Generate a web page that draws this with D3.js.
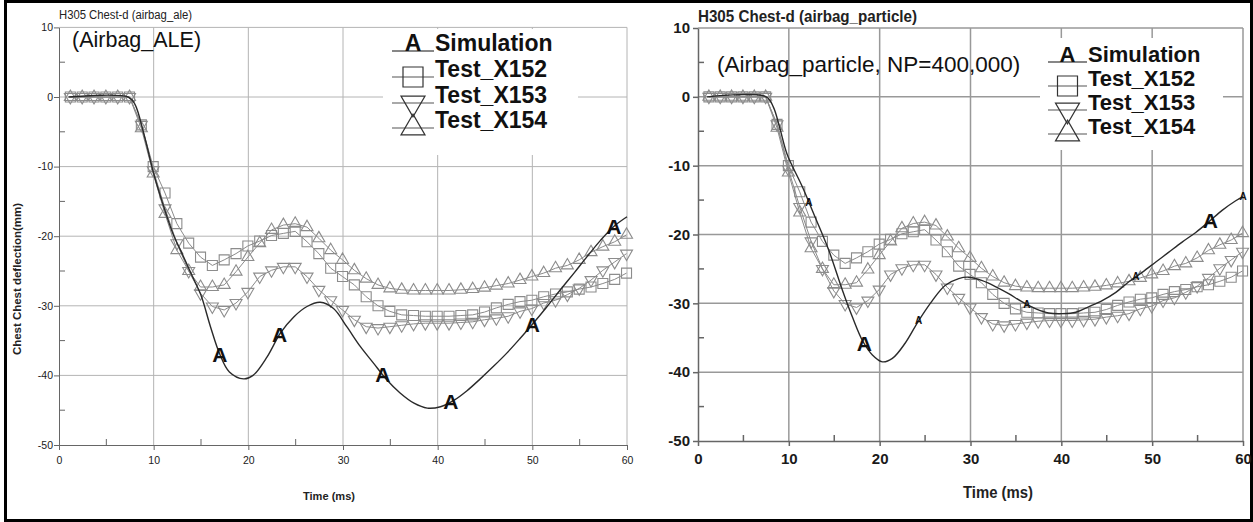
<!DOCTYPE html>
<html>
<head>
<meta charset="utf-8">
<script src="https://cdn.jsdelivr.net/npm/d3@7"></script>
<style>
  body { margin: 0; background: #fff; }
  svg { display: block; font-family: "Liberation Sans", Arial, sans-serif; }
</style>
</head>
<body>
<svg id="chart" width="1253" height="522"></svg>
<script>
// ---- data ----
const testTime = [1.2, 2.45, 3.7, 4.95, 6.2, 7.45, 8.7, 9.95, 11.2, 12.45, 13.7, 14.95, 16.2, 17.45,
  18.7, 19.95, 21.2, 22.45, 23.7, 24.95, 26.2, 27.45, 28.7, 29.95, 31.2, 32.45, 33.7, 34.95, 36.2,
  37.45, 38.7, 39.95, 41.2, 42.45, 43.7, 44.95, 46.2, 47.45, 48.7, 49.95, 51.2, 52.45, 53.7, 54.95,
  56.2, 57.45, 58.7, 59.95];

const testX152 = [0, 0, 0, 0, 0, 0, -4, -10, -13.8, -18.2, -21, -23, -24.2, -23.4, -22.5, -21.4,
  -20.7, -19.9, -19.6, -19.3, -20.8, -22.5, -24.6, -25.8, -27, -28.7, -30, -30.8, -31.3, -31.4,
  -31.5, -31.5, -31.5, -31.4, -31.3, -30.9, -30.3, -29.8, -29.4, -29.2, -28.7, -28.3, -28, -27.6,
  -27.3, -26.8, -26.2, -25.3];

const testX153 = [0, 0, 0, 0, 0, 0, -4, -10.5, -16, -21, -25, -28.2, -30.1, -30.6, -29.6, -28,
  -25.8, -24.9, -24.4, -24.4, -25.8, -27.7, -29.2, -30.6, -32, -33, -33.2, -33, -32.8, -32.6,
  -32.5, -32.5, -32.5, -32.4, -32.3, -32, -31.8, -31.5, -30.8, -30.4, -29.6, -29.2, -28.4, -27.5,
  -26.3, -24.9, -23.7, -22.5];

const testX154 = [0, 0, 0, 0, 0, 0, -4.5, -11, -16.8, -22, -25, -27.3, -27.3, -27, -25.1, -23,
  -21, -19.1, -18.4, -18.2, -18.7, -20.3, -22, -23.4, -24.9, -26.1, -27, -27.5, -27.7, -27.8,
  -27.8, -27.8, -27.8, -27.7, -27.6, -27.4, -27.1, -26.8, -26.3, -25.8, -25.3, -24.6, -24.2, -23.4,
  -22.3, -21.5, -20.8, -19.8];

const simAleTime = [1, 7.3, 8, 9, 10, 11, 12, 13, 14, 15, 16, 17, 18, 19.5, 20.5, 22, 23.4, 24.8,
  26.2, 27.6, 29, 30.4, 31.8, 33.2, 34.6, 36, 37.5, 38.9, 40.3, 41.7, 43.1, 44.5, 45.9, 47.3, 48.7,
  50.1, 51.5, 52.9, 54.4, 55.8, 57.2, 58.6, 60];
const simAleDefl = [0, 0, -1, -5.5, -11, -15.5, -19.5, -22.5, -25.5, -28.5, -33, -37, -39.5, -40.5,
  -40, -37.3, -33.9, -31.6, -30.1, -29.5, -30.4, -33, -35.8, -38.2, -40.6, -42.5, -44, -44.7, -44.5,
  -43.6, -42.2, -40.5, -38.7, -36.8, -34.7, -32.5, -30.2, -27.8, -25.3, -22.9, -20.6, -18.6, -17.2];
const simAleMarkTime = [17, 23.3, 34.2, 41.4, 50, 58.6];

const simParticleTime = [1, 7.5, 8.3, 9, 9.8, 11.5, 12.9, 14.4, 15.9, 17, 18.1, 19.2, 20.3, 21.4,
  22.8, 24.3, 25.8, 27.2, 28.7, 29.8, 31.3, 32.8, 34.2, 35.7, 37.2, 38.6, 40.1, 41.6, 43, 44.5, 46,
  47.4, 48.9, 50.4, 51.8, 53.3, 54.8, 56.2, 57.7, 59.2, 60];
const simParticleDefl = [0, 0, -1.5, -4.5, -8.3, -13.1, -17.5, -22.3, -28.1, -32, -35.4, -37.5,
  -38.5, -38, -35.8, -32.5, -29.6, -27.4, -26.4, -26.2, -26.7, -27.6, -28.6, -29.8, -30.8, -31.4,
  -31.5, -31.3, -30.5, -29.6, -28.4, -26.9, -25.5, -24, -22.6, -21.1, -19.7, -18.2, -16.5, -15.1,
  -14.5];
const simParticleMarkTime = [12.2, 18.3, 24.3, 36.2, 48.2, 56.4, 60];

const xTicks = [0, 10, 20, 30, 40, 50, 60];
const yTicks = [10, 0, -10, -20, -30, -40, -50];
const xMinor = [5, 15, 25, 35, 45, 55];
const yMinor = [5, -5, -15, -25, -35, -45];
const legendLabels = ["Simulation", "Test_X152", "Test_X153", "Test_X154"];

const svg = d3.select("#chart");

// outer frame
svg.append("rect")
  .attr("x", 5.5).attr("y", 1.5).attr("width", 1246).attr("height", 519)
  .attr("fill", "none").attr("stroke", "#000").attr("stroke-width", 3);

const tests = [
  { values: testX152, shape: "square" },
  { values: testX153, shape: "down" },
  { values: testX154, shape: "up" }
];

function symbolPath(shape, side) {
  if (shape === "square") return d3.symbol(d3.symbolSquare, side * side)();
  return d3.symbol(d3.symbolTriangle, Math.sqrt(3) / 4 * side * side)();
}

// where a label sits on the simulation curve
function interp(ts, vs, t) {
  const i = Math.max(1, d3.bisectLeft(ts, t));
  const k = (t - ts[i - 1]) / (ts[i] - ts[i - 1]);
  return vs[i - 1] + k * (vs[i] - vs[i - 1]);
}

function drawPanel(p) {
  const x = d3.scaleLinear().domain([0, 60]).range([p.left, p.right]);
  const y = d3.scaleLinear().domain([-50, 10]).range([p.bottom, p.top]);
  const g = svg.append("g");

  // grid
  g.append("g").selectAll("line")
    .data(xTicks.slice(1))
    .join("line")
    .attr("x1", d => x(d)).attr("x2", d => x(d))
    .attr("y1", p.top).attr("y2", p.bottom)
    .attr("stroke", p.gridColor).attr("stroke-width", p.gridWidth);
  g.append("g").selectAll("line")
    .data(yTicks.slice(0, -1))
    .join("line")
    .attr("x1", p.left).attr("x2", p.right)
    .attr("y1", d => y(d)).attr("y2", d => y(d))
    .attr("stroke", p.gridColor).attr("stroke-width", p.gridWidth);

  // axes
  const xAxis = g.append("g")
    .attr("transform", `translate(0,${p.bottom})`)
    .call(d3.axisBottom(x).tickValues(xTicks).tickSize(5).tickSizeOuter(0)
      .tickPadding(7).tickFormat(d => String(d)));
  const yAxis = g.append("g")
    .attr("transform", `translate(${p.left},0)`)
    .call(d3.axisLeft(y).tickValues(yTicks).tickSize(5).tickSizeOuter(0)
      .tickPadding(p.yPad).tickFormat(d => String(d)));
  [xAxis, yAxis].forEach(a => {
    a.select(".domain").attr("stroke", p.axisColor).attr("stroke-width", p.axisWidth);
    a.selectAll(".tick line").attr("stroke", p.axisColor).attr("stroke-width", p.axisWidth);
    a.selectAll("text")
      .attr("font-size", p.tickFont).attr("font-weight", p.tickWeight)
      .attr("fill", "#1a1a1a");
  });

  // minor ticks pointing inward
  g.append("g").selectAll("line")
    .data(xMinor).join("line")
    .attr("x1", d => x(d)).attr("x2", d => x(d))
    .attr("y1", p.bottom).attr("y2", p.bottom - 6)
    .attr("stroke", p.axisColor).attr("stroke-width", p.axisWidth);
  g.append("g").selectAll("line")
    .data(yMinor).join("line")
    .attr("x1", p.left).attr("x2", p.left + 6)
    .attr("y1", d => y(d)).attr("y2", d => y(d))
    .attr("stroke", p.axisColor).attr("stroke-width", p.axisWidth);

  // test curves
  const testLine = d3.line().x(d => x(d[0])).y(d => y(d[1]));
  tests.forEach(s => {
    const pts = testTime.map((t, i) => [t, s.values[i]]);
    g.append("path")
      .attr("d", testLine(pts))
      .attr("fill", "none").attr("stroke", "#8a8a8a").attr("stroke-width", 1);
    g.append("g").selectAll("path")
      .data(pts).join("path")
      .attr("d", symbolPath(s.shape, s.shape === "square" ? 10 : 12))
      .attr("transform", d => `translate(${x(d[0])},${y(d[1])})${s.shape === "down" ? " rotate(180)" : ""}`)
      .attr("fill", "none").attr("stroke", "#8c8c8c").attr("stroke-width", 1.1);
  });

  // simulation
  const simPts = p.simTime.map((t, i) => [t, p.simDefl[i]]);
  g.append("path")
    .attr("d", d3.line().x(d => x(d[0])).y(d => y(d[1])).curve(d3.curveCatmullRom)(simPts))
    .attr("fill", "none").attr("stroke", "#2a2a2a").attr("stroke-width", 1.4);
  g.append("g").selectAll("text")
    .data(p.markTime).join("text")
    .attr("x", d => x(d))
    .attr("y", d => y(interp(p.simTime, p.simDefl, d)))
    .attr("text-anchor", "middle").attr("dy", "0.36em")
    .attr("font-weight", "bold")
    .attr("font-size", (d, i) => p.bigMarks.includes(i) ? 21 : 10)
    .attr("fill", "#111")
    .text("A");

  // titles and notes
  g.append("text")
    .attr("x", p.left).attr("y", p.titleY)
    .attr("font-size", p.titleFont).attr("font-weight", p.titleWeight)
    .attr("textLength", p.titleLen).attr("lengthAdjust", "spacingAndGlyphs")
    .attr("fill", "#222").text(p.title);
  g.append("text")
    .attr("x", p.noteX).attr("y", p.noteY)
    .attr("font-size", p.noteFont).attr("fill", "#111").text(p.note);
  g.append("text")
    .attr("x", p.xLabelX).attr("y", p.xLabelY)
    .attr("text-anchor", "middle").attr("font-weight", "bold")
    .attr("font-size", p.xLabelFont)
    .attr("textLength", p.xLabelLen).attr("lengthAdjust", "spacingAndGlyphs")
    .attr("fill", "#222").text("Time (ms)");
  if (p.yLabel) {
    g.append("text")
      .attr("transform", `translate(${p.yLabelX},${p.yLabelY}) rotate(-90)`)
      .attr("text-anchor", "middle").attr("font-weight", "bold")
      .attr("font-size", 10)
      .attr("textLength", 152).attr("lengthAdjust", "spacingAndGlyphs")
      .attr("fill", "#222").text(p.yLabel);
  }

  // legend
  const lg = p.legend;
  g.append("rect")
    .attr("x", lg.x0).attr("y", lg.y0).attr("width", lg.x1 - lg.x0).attr("height", lg.y1 - lg.y0)
    .attr("fill", "#fff");
  const rows = g.append("g").selectAll("g")
    .data(legendLabels).join("g")
    .attr("transform", (d, i) => `translate(0,${lg.rows[i]})`);
  rows.append("line")
    .attr("x1", lg.lineX0).attr("x2", lg.lineX1)
    .attr("stroke", (d, i) => i === 0 ? "#111" : "#555").attr("stroke-width", 1.2);
  rows.filter((d, i) => i === 0).append("text")
    .attr("x", (lg.lineX0 + lg.lineX1) / 2).attr("text-anchor", "middle")
    .attr("font-weight", "bold").attr("font-size", lg.font).attr("fill", "#111")
    .text("A");
  rows.filter((d, i) => i > 0).append("path")
    .attr("d", (d, i) => symbolPath(tests[i].shape, tests[i].shape === "square" ? 20 : 24))
    .attr("transform", (d, i) => `translate(${(lg.lineX0 + lg.lineX1) / 2},0)${tests[i].shape === "down" ? " rotate(180)" : ""}`)
    .attr("fill", "none").attr("stroke", "#333").attr("stroke-width", 1.2);
  rows.append("text")
    .attr("x", lg.textX)
    .attr("font-weight", "bold").attr("font-size", lg.font).attr("fill", "#111")
    .text(d => d);
}

drawPanel({
  left: 59, right: 627, top: 27.4, bottom: 445,
  gridColor: "#b4b4b4", gridWidth: 1, axisColor: "#666", axisWidth: 1,
  tickFont: 10.5, tickWeight: "normal", yPad: 1,
  simTime: simAleTime, simDefl: simAleDefl, markTime: simAleMarkTime, bigMarks: [0, 1, 2, 3, 4, 5],
  title: "H305 Chest-d (airbag_ale)", titleY: 19, titleFont: 12, titleWeight: "normal", titleLen: 133,
  note: "(Airbag_ALE)", noteX: 72, noteY: 47, noteFont: 21.5,
  xLabelX: 329, xLabelY: 500, xLabelFont: 10, xLabelLen: 52,
  yLabel: "Chest Chest deflection(mm)", yLabelX: 21, yLabelY: 279,
  legend: { x0: 383, x1: 578, y0: 29, y1: 155, rows: [51, 77, 103, 128],
            lineX0: 392, lineX1: 434, textX: 435, font: 23 }
});

drawPanel({
  left: 698, right: 1243, top: 28, bottom: 441,
  gridColor: "#999", gridWidth: 1.5, axisColor: "#666", axisWidth: 1.5,
  tickFont: 15, tickWeight: "bold", yPad: 3,
  simTime: simParticleTime, simDefl: simParticleDefl, markTime: simParticleMarkTime, bigMarks: [1, 5],
  title: "H305 Chest-d (airbag_particle)", titleY: 22, titleFont: 16, titleWeight: "bold", titleLen: 219,
  note: "(Airbag_particle, NP=400,000)", noteX: 717, noteY: 72, noteFont: 22.5,
  xLabelX: 998, xLabelY: 498, xLabelFont: 16, xLabelLen: 70,
  yLabel: null,
  legend: { x0: 1040, x1: 1223, y0: 38, y1: 150, rows: [62, 86, 110, 134],
            lineX0: 1048, lineX1: 1087, textX: 1088, font: 22 }
});
</script>
</body>
</html>
